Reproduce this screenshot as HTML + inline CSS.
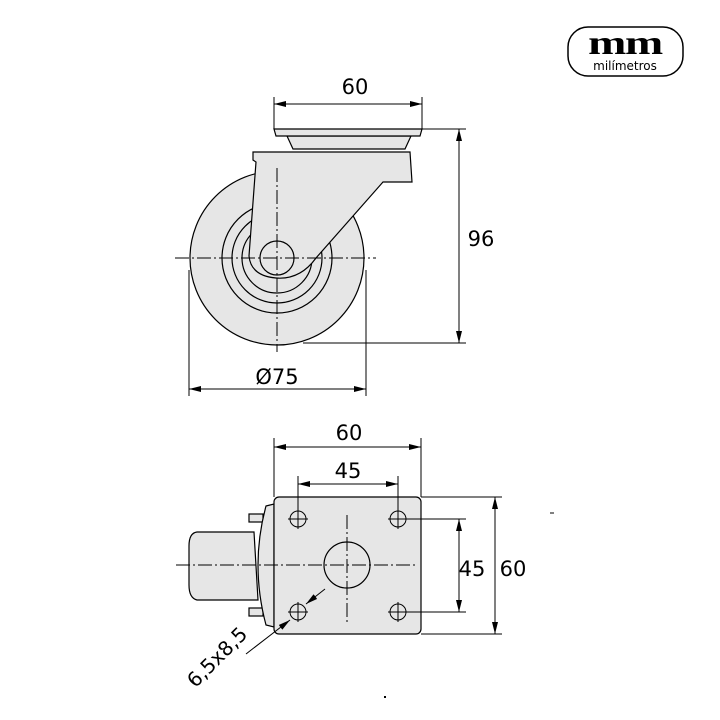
<!DOCTYPE html>
<html><head><meta charset="utf-8"><style>
html,body{margin:0;padding:0;background:#fff;}
svg{display:block;}
text{font-family:"DejaVu Sans","Liberation Sans",sans-serif;fill:#000;}
</style></head><body>
<svg width="720" height="720" viewBox="0 0 720 720" xmlns="http://www.w3.org/2000/svg">
<defs>
<marker id="a" viewBox="0 0 12 6" refX="12" refY="3" markerWidth="12" markerHeight="6" orient="auto-start-reverse" markerUnits="userSpaceOnUse"><path d="M0,0 L12,3 L0,6 Z" fill="#000"/></marker>
</defs>
<!-- logo -->
<rect x="568" y="27" width="115" height="49" rx="20" fill="#fff" stroke="#000" stroke-width="1.5"/>
<text x="625" y="54" font-weight="bold" font-size="34" text-anchor="middle" style="font-family:'Liberation Serif',serif" transform="translate(625 0) scale(1.35 1) translate(-625 0)" letter-spacing="-1">mm</text>
<text x="625" y="70" font-size="12" text-anchor="middle">milímetros</text>

<!-- side view -->
<g stroke="#000" stroke-width="1.2" fill="#e6e6e6">
<circle cx="277" cy="258" r="87"/>
<circle cx="277" cy="258" r="55" fill="none"/>
<circle cx="277" cy="258" r="45" fill="none"/>
<circle cx="277" cy="258" r="35" fill="none"/>
<path d="M287,136 L411,136 L405,149 L293,149 Z"/>
<path d="M274,129 L422,129 L420,136 L276,136 Z"/>
<path d="M253,152 L410,152 L412,182 L383,182 L316,258 Q300,280 276,278 Q251,276 249,256 L256,162 L253,160 Z"/>
<circle cx="277" cy="258" r="17"/>
</g>
<g stroke="#000" stroke-width="1" stroke-dasharray="14,3,2,3" fill="none">
<line x1="175" y1="258" x2="376" y2="258"/>
<line x1="277" y1="168" x2="277" y2="352"/>
</g>
<g stroke="#000" stroke-width="1" fill="none">
<line x1="274" y1="97" x2="274" y2="129"/><line x1="422" y1="97" x2="422" y2="129"/>
<line x1="274" y1="104" x2="422" y2="104" marker-start="url(#a)" marker-end="url(#a)"/>
<line x1="422" y1="129" x2="466" y2="129"/><line x1="303" y1="343" x2="466" y2="343"/>
<line x1="459" y1="129" x2="459" y2="343" marker-start="url(#a)" marker-end="url(#a)"/>
<line x1="189" y1="270" x2="189" y2="396"/><line x1="366" y1="270" x2="366" y2="396"/>
<line x1="189" y1="389" x2="366" y2="389" marker-start="url(#a)" marker-end="url(#a)"/>
</g>
<text x="355" y="94" font-size="21" text-anchor="middle">60</text>
<text x="481" y="246" font-size="21" text-anchor="middle">96</text>
<text x="277" y="384" font-size="21" text-anchor="middle">Ø75</text>

<!-- bottom view -->
<g stroke="#000" stroke-width="1.2" fill="#e6e6e6">
<path d="M197,532 L254,532 L258,600 L197,600 Q189,598 189,585 L189,546 Q189,533 197,532 Z"/>
<rect x="249" y="514" width="14" height="8"/><rect x="249" y="608" width="14" height="8"/>
<path d="M266,506 L274,504 L274,627 L266,625 Q250,565 266,506 Z"/>
<rect x="274" y="497" width="147" height="137" rx="5"/>
<circle cx="347" cy="565" r="23"/>
</g>
<g stroke="#000" stroke-width="1" fill="none">
<circle cx="298" cy="519" r="8"/><circle cx="398" cy="519" r="8"/><circle cx="298" cy="612" r="8"/><circle cx="398" cy="612" r="8"/>
<path d="M298,509 V529 M288,519 H308 M398,509 V529 M388,519 H408 M298,602 V622 M288,612 H308 M398,602 V622 M388,612 H408"/>
</g>
<g stroke="#000" stroke-width="1" stroke-dasharray="14,3,2,3" fill="none">
<line x1="176" y1="565" x2="418" y2="565"/>
<line x1="347" y1="515" x2="347" y2="622"/>
</g>
<g stroke="#000" stroke-width="1" fill="none">
<line x1="274" y1="438" x2="274" y2="497"/><line x1="421" y1="438" x2="421" y2="497"/>
<line x1="274" y1="447" x2="421" y2="447" marker-start="url(#a)" marker-end="url(#a)"/>
<line x1="298" y1="476" x2="298" y2="511"/><line x1="398" y1="476" x2="398" y2="511"/>
<line x1="298" y1="484" x2="398" y2="484" marker-start="url(#a)" marker-end="url(#a)"/>
<line x1="406" y1="519" x2="466" y2="519"/><line x1="406" y1="612" x2="466" y2="612"/>
<line x1="459" y1="519" x2="459" y2="612" marker-start="url(#a)" marker-end="url(#a)"/>
<line x1="421" y1="497" x2="502" y2="497"/><line x1="421" y1="634" x2="502" y2="634"/>
<line x1="495" y1="497" x2="495" y2="634" marker-start="url(#a)" marker-end="url(#a)"/>
<line x1="246" y1="654" x2="290" y2="620" marker-end="url(#a)"/>
<line x1="325" y1="589" x2="306" y2="604" marker-end="url(#a)"/>
</g>
<text x="349" y="440" font-size="21" text-anchor="middle">60</text>
<text x="348" y="478" font-size="21" text-anchor="middle">45</text>
<text x="472" y="576" font-size="21" text-anchor="middle">45</text>
<text x="513" y="576" font-size="21" text-anchor="middle">60</text>
<text x="222" y="662" font-size="20" text-anchor="middle" transform="rotate(-45 222 662)">6,5x8,5</text>
<line x1="550" y1="513" x2="554" y2="513" stroke="#000" stroke-width="1"/>
<rect x="384" y="696" width="2" height="2" fill="#000"/>
</svg>
</body></html>
